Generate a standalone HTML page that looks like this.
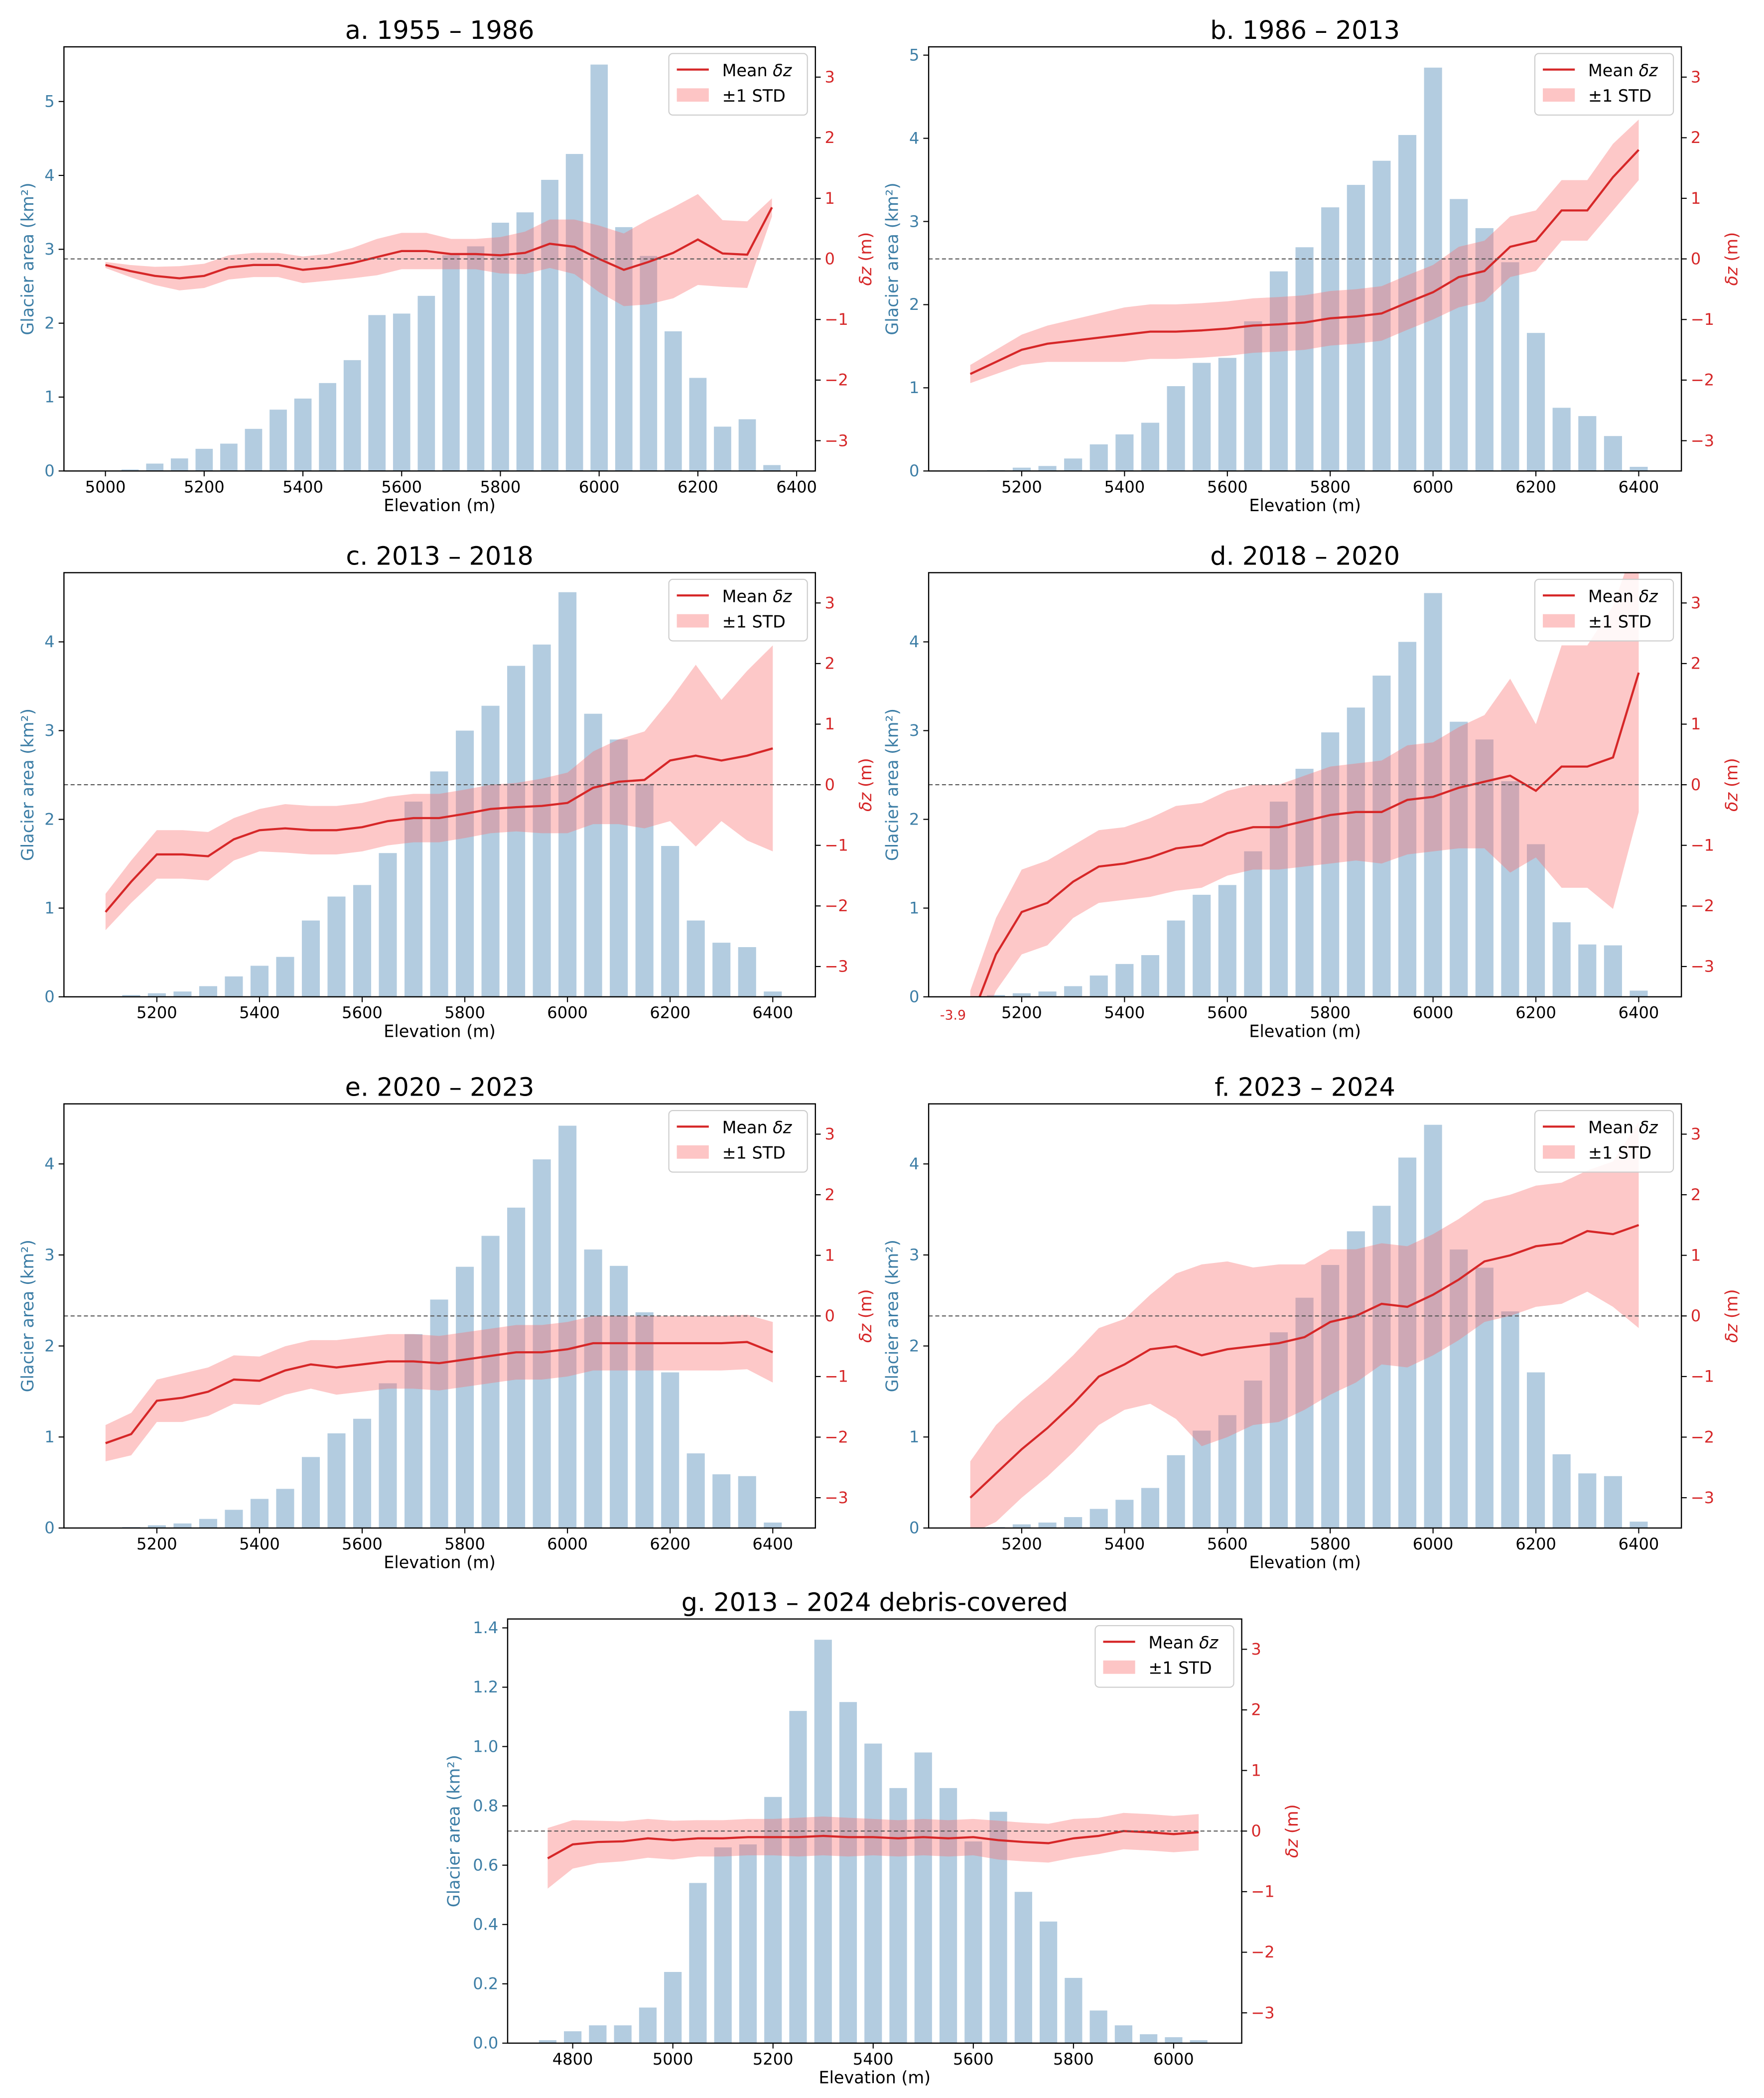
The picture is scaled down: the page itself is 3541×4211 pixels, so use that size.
<!DOCTYPE html>
<html><head><meta charset="utf-8"><style>
html,body{margin:0;padding:0;background:#fff;}
svg{display:block;}
text{font-family:"DejaVu Sans","Liberation Sans",sans-serif;}
</style></head><body>
<svg id="fig" width="3541" height="4211" viewBox="0 0 1324 1568" preserveAspectRatio="none" xmlns="http://www.w3.org/2000/svg"></svg>
<script>
// ---- data: panel a ----
const elevA=[5000,5050,5100,5150,5200,5250,5300,5350,5400,5450,5500,5550,5600,5650,5700,5750,5800,5850,5900,5950,6000,6050,6100,6150,6200,6250,6300,6350];
const areaA=[0,0.02,0.1,0.17,0.3,0.37,0.57,0.83,0.98,1.19,1.5,2.11,2.13,2.37,2.92,3.04,3.36,3.5,3.94,4.29,5.5,3.3,2.91,1.89,1.26,0.6,0.7,0.08];
const meanA=[-0.1,-0.2,-0.28,-0.32,-0.28,-0.14,-0.1,-0.1,-0.18,-0.14,-0.07,0.03,0.13,0.13,0.08,0.08,0.06,0.1,0.25,0.2,0.0,-0.18,-0.05,0.1,0.32,0.09,0.07,0.85];
const stdA=[0.05,0.1,0.15,0.2,0.2,0.2,0.2,0.2,0.22,0.22,0.25,0.3,0.3,0.3,0.25,0.25,0.3,0.35,0.4,0.45,0.55,0.6,0.7,0.75,0.75,0.55,0.55,0.15];
// ---- panels b-f share elevation bins ----
const elevB=[5100,5150,5200,5250,5300,5350,5400,5450,5500,5550,5600,5650,5700,5750,5800,5850,5900,5950,6000,6050,6100,6150,6200,6250,6300,6350,6400];
const areaB=[0,0.01,0.04,0.06,0.15,0.32,0.44,0.58,1.02,1.3,1.36,1.8,2.4,2.69,3.17,3.44,3.73,4.04,4.85,3.27,2.92,2.51,1.66,0.76,0.66,0.42,0.05];
const meanB=[-1.9,-1.7,-1.5,-1.4,-1.35,-1.3,-1.25,-1.2,-1.2,-1.18,-1.15,-1.1,-1.08,-1.05,-0.98,-0.95,-0.9,-0.72,-0.55,-0.3,-0.2,0.2,0.3,0.8,0.8,1.35,1.8];
const stdB=[0.15,0.2,0.25,0.3,0.35,0.4,0.45,0.45,0.45,0.45,0.45,0.45,0.45,0.45,0.45,0.45,0.45,0.45,0.45,0.5,0.5,0.5,0.5,0.5,0.5,0.55,0.5];
const areaC=[0,0.02,0.04,0.06,0.12,0.23,0.35,0.45,0.86,1.13,1.26,1.62,2.2,2.54,3.0,3.28,3.73,3.97,4.56,3.19,2.9,2.4,1.7,0.86,0.61,0.56,0.06];
const meanC=[-2.1,-1.6,-1.15,-1.15,-1.18,-0.9,-0.75,-0.72,-0.75,-0.75,-0.7,-0.6,-0.55,-0.55,-0.48,-0.4,-0.37,-0.35,-0.3,-0.05,0.05,0.08,0.4,0.48,0.4,0.48,0.6];
const stdC=[0.3,0.35,0.4,0.4,0.4,0.35,0.35,0.4,0.4,0.4,0.4,0.4,0.4,0.4,0.4,0.4,0.4,0.45,0.5,0.6,0.7,0.8,1.0,1.5,1.0,1.4,1.7];
const areaD=[0,0.02,0.04,0.06,0.12,0.24,0.37,0.47,0.86,1.15,1.26,1.64,2.2,2.57,2.98,3.26,3.62,4.0,4.55,3.1,2.9,2.43,1.72,0.84,0.59,0.58,0.07];
const meanD=[-3.9,-2.8,-2.1,-1.95,-1.6,-1.35,-1.3,-1.2,-1.05,-1.0,-0.8,-0.7,-0.7,-0.6,-0.5,-0.45,-0.45,-0.25,-0.2,-0.05,0.05,0.15,-0.1,0.3,0.3,0.45,1.85];
const stdD=[0.5,0.6,0.7,0.7,0.6,0.6,0.6,0.65,0.7,0.7,0.7,0.7,0.7,0.75,0.8,0.8,0.85,0.9,0.9,1.0,1.1,1.6,1.1,2.0,2.0,2.5,2.3];
const areaE=[0,0.01,0.03,0.05,0.1,0.2,0.32,0.43,0.78,1.04,1.2,1.59,2.13,2.51,2.87,3.21,3.52,4.05,4.42,3.06,2.88,2.37,1.71,0.82,0.59,0.57,0.06];
const meanE=[-2.1,-1.95,-1.4,-1.35,-1.25,-1.05,-1.07,-0.9,-0.8,-0.85,-0.8,-0.75,-0.75,-0.78,-0.72,-0.66,-0.6,-0.6,-0.55,-0.45,-0.45,-0.45,-0.45,-0.45,-0.45,-0.43,-0.6];
const stdE=[0.3,0.35,0.35,0.4,0.4,0.4,0.4,0.4,0.4,0.45,0.45,0.45,0.45,0.45,0.45,0.45,0.45,0.45,0.45,0.45,0.45,0.45,0.45,0.45,0.45,0.45,0.5];
const areaF=[0,0.01,0.04,0.06,0.12,0.21,0.31,0.44,0.8,1.07,1.24,1.62,2.15,2.53,2.89,3.26,3.54,4.07,4.43,3.06,2.86,2.38,1.71,0.81,0.6,0.57,0.07];
const meanF=[-3.0,-2.6,-2.2,-1.85,-1.45,-1.0,-0.8,-0.55,-0.5,-0.65,-0.55,-0.5,-0.45,-0.35,-0.1,0.0,0.2,0.15,0.35,0.6,0.9,1.0,1.15,1.2,1.4,1.35,1.5];
const stdF=[0.6,0.8,0.8,0.8,0.8,0.8,0.75,0.9,1.2,1.5,1.45,1.3,1.3,1.2,1.2,1.1,1.0,1.0,1.0,1.0,1.0,1.0,1.0,1.0,1.0,1.2,1.7];
// ---- panel g ----
const elevG=[4750,4800,4850,4900,4950,5000,5050,5100,5150,5200,5250,5300,5350,5400,5450,5500,5550,5600,5650,5700,5750,5800,5850,5900,5950,6000,6050];
const areaG=[0.01,0.04,0.06,0.06,0.12,0.24,0.54,0.66,0.67,0.83,1.12,1.36,1.15,1.01,0.86,0.98,0.86,0.68,0.78,0.51,0.41,0.22,0.11,0.06,0.03,0.02,0.01];
const meanG=[-0.45,-0.22,-0.18,-0.17,-0.12,-0.15,-0.12,-0.12,-0.1,-0.1,-0.1,-0.08,-0.1,-0.1,-0.12,-0.1,-0.12,-0.1,-0.15,-0.18,-0.2,-0.12,-0.08,0.0,-0.02,-0.05,-0.02];
const stdG=[0.5,0.4,0.35,0.33,0.32,0.32,0.3,0.3,0.3,0.3,0.32,0.32,0.32,0.3,0.3,0.3,0.3,0.3,0.32,0.32,0.32,0.32,0.3,0.3,0.3,0.3,0.3];
const xTicksAF=[5200,5400,5600,5800,6000,6200,6400];
const xTicksA=[5000,5200,5400,5600,5800,6000,6200,6400];
const xTicksG=[4800,5000,5200,5400,5600,5800,6000];
const yTicks5=[0,1,2,3,4,5];
const yTicks4=[0,1,2,3,4];
const yTicksG=[0,0.2,0.4,0.6,0.8,1.0,1.2,1.4];
const rTicks=[-3,-2,-1,0,1,2,3];

const NS="http://www.w3.org/2000/svg";
const svg=document.getElementById('fig');
function mk(tag,attrs,parent){const e=document.createElementNS(NS,tag);for(const k in attrs)e.setAttribute(k,attrs[k]);(parent||svg).appendChild(e);return e;}
const BLUE="#3d7ea6", RED="#d62728";

const panels=[
 {id:'a',title:'a. 1955 – 1986',box:[48,35,612,352],x:[4916,6438],yl:5.74,elev:elevA,area:areaA,mean:meanA,std:stdA,xt:xTicksA,yt:yTicks5,fmt:v=>String(v)},
 {id:'b',title:'b. 1986 – 2013',box:[697,35,1262,352],x:[5019,6483],yl:5.1,elev:elevB,area:areaB,mean:meanB,std:stdB,xt:xTicksAF,yt:yTicks5,fmt:v=>String(v)},
 {id:'c',title:'c. 2013 – 2018',box:[48,428,612,745],x:[5019,6483],yl:4.78,elev:elevB,area:areaC,mean:meanC,std:stdC,xt:xTicksAF,yt:yTicks4,fmt:v=>String(v)},
 {id:'d',title:'d. 2018 – 2020',box:[697,428,1262,745],x:[5019,6483],yl:4.78,elev:elevB,area:areaD,mean:meanD,std:stdD,xt:xTicksAF,yt:yTicks4,fmt:v=>String(v),note:true},
 {id:'e',title:'e. 2020 – 2023',box:[48,825,612,1142],x:[5019,6483],yl:4.66,elev:elevB,area:areaE,mean:meanE,std:stdE,xt:xTicksAF,yt:yTicks4,fmt:v=>String(v)},
 {id:'f',title:'f. 2023 – 2024',box:[697,825,1262,1142],x:[5019,6483],yl:4.66,elev:elevB,area:areaF,mean:meanF,std:stdF,xt:xTicksAF,yt:yTicks4,fmt:v=>String(v)},
 {id:'g',title:'g. 2013 – 2024 debris-covered',box:[381,1210,932,1527],x:[4670,6136],yl:1.43,elev:elevG,area:areaG,mean:meanG,std:stdG,xt:xTicksG,yt:yTicksG,fmt:v=>v.toFixed(1)}
];

panels.forEach(p=>{
 const [L,T,R,B]=p.box;
 const g=mk('g',{});
 
 
 const sx=v=>L+(v-p.x[0])/(p.x[1]-p.x[0])*(R-L);
 const sy=v=>B-v/p.yl*(B-T);
 const sr=v=>(T+B)/2-v/3.5*((B-T)/2);
 const clipId='clip'+p.id;
 const cp=mk('clipPath',{id:clipId},g); mk('rect',{x:L,y:T,width:R-L,height:B-T},cp);
 const t=mk('text',{x:(L+R)/2,y:T-6,'text-anchor':'middle','font-size':19,fill:'#000'},g);t.textContent=p.title;
 
 const bw=sx(p.x[0]+35)-sx(p.x[0]);
 p.elev.forEach((e,i)=>{
  const r=mk('rect',{x:sx(e)-bw/2,y:sy(p.area[i]),width:bw,height:B-sy(p.area[i]),fill:'#b3cce0'},g);
  
 });
 const cg=mk('g',{'clip-path':'url(#'+clipId+')'},g);
 let d='';
 p.elev.forEach((e,i)=>{d+=(i?'L':'M')+sx(e)+','+sr(p.mean[i]+p.std[i]);});
 for(let i=p.elev.length-1;i>=0;i--)d+='L'+sx(p.elev[i])+','+sr(p.mean[i]-p.std[i]);
 const band=mk('path',{d:d+'Z',fill:'rgba(250,110,110,0.38)',stroke:'none'},cg);
 
 let ld='';p.elev.forEach((e,i)=>{ld+=(i?'L':'M')+sx(e)+','+sr(p.mean[i]);});
 const ln=mk('path',{d:ld,fill:'none',stroke:RED,'stroke-width':1.6},cg);
 
 const zl=mk('line',{x1:L,x2:R,y1:sr(0),y2:sr(0),stroke:'#555','stroke-width':0.8,'stroke-dasharray':'3,2'},g);
 
 mk('rect',{x:L,y:T,width:R-L,height:B-T,fill:'none',stroke:'#000','stroke-width':0.9},g);
 p.xt.forEach(v=>{mk('line',{x1:sx(v),x2:sx(v),y1:B,y2:B+4,stroke:'#000','stroke-width':0.8},g);
  const tx=mk('text',{x:sx(v),y:B+16,'text-anchor':'middle','font-size':12,fill:'#000'},g);tx.textContent=v;
  });
 const xl=mk('text',{x:(L+R)/2,y:B+30,'text-anchor':'middle','font-size':12.5,fill:'#000'},g);xl.textContent='Elevation (m)';
 
 p.yt.forEach(v=>{mk('line',{x1:L-4,x2:L,y1:sy(v),y2:sy(v),stroke:'#000','stroke-width':0.8},g);
  const tx=mk('text',{x:L-7,y:sy(v)+4,'text-anchor':'end','font-size':12,fill:BLUE},g);tx.textContent=p.fmt(v);
  });
 const yl=mk('text',{x:0,y:0,'text-anchor':'middle','font-size':12.5,fill:BLUE,transform:`translate(${L-(p.id==='g'?36:23)},${(T+B)/2}) rotate(-90)`},g);yl.textContent='Glacier area (km²)';
 
 rTicks.forEach(v=>{mk('line',{x1:R,x2:R+4,y1:sr(v),y2:sr(v),stroke:'#000','stroke-width':0.8},g);
  const tx=mk('text',{x:R+7,y:sr(v)+4,'text-anchor':'start','font-size':12,fill:RED},g);tx.textContent=v<0?'−'+(-v):String(v);
  });
 const rl=mk('text',{x:0,y:0,'text-anchor':'middle','font-size':12.5,fill:RED,transform:`translate(${R+42},${(T+B)/2}) rotate(-90)`},g);
 rl.innerHTML='<tspan font-style="italic">δz</tspan> (m)';
 
 if(p.note){const n=mk('text',{x:sx(5100)-13,y:B+17,'font-size':10,fill:RED,'text-anchor':'middle'},g);n.textContent='-3.9';
  }
 const lg=mk('g',{},g);
 
 const lx=R-110, ly=T+5;
 mk('rect',{x:lx,y:ly,width:104,height:46,rx:3,fill:'#fff','fill-opacity':0.85,stroke:'#ccc','stroke-width':0.8},lg);
 mk('line',{x1:lx+6,x2:lx+30,y1:ly+12,y2:ly+12,stroke:RED,'stroke-width':1.6},lg);
 const l1=mk('text',{x:lx+40,y:ly+17,'font-size':12.5,fill:'#000'},lg);l1.innerHTML='Mean <tspan font-style="italic">δz</tspan>';
 
 mk('rect',{x:lx+6,y:ly+26,width:24,height:10,fill:'rgba(250,110,110,0.4)'},lg);
 const l2=mk('text',{x:lx+40,y:ly+36,'font-size':12.5,fill:'#000'},lg);l2.textContent='±1 STD';
 
});
</script>
</body></html>
